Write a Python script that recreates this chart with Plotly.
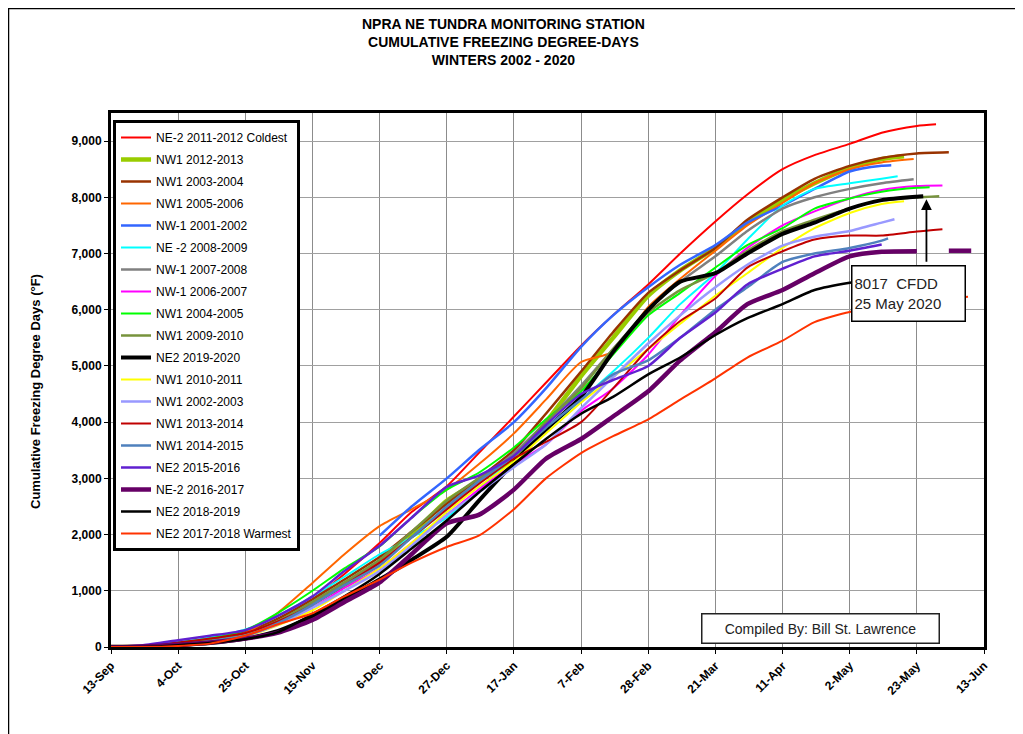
import plotly.graph_objects as go

# ---------------- data (days since 13-Sep) ----------------
DAYS = [0, 10, 21, 31, 42, 52, 63, 73, 84, 94, 105, 115, 126, 136, 147, 157,
        168, 178, 189, 199, 210, 220, 231, 241]

TICK_DAYS = [0, 21, 42, 63, 84, 105, 126, 147, 168, 189, 210, 231, 252, 273]
TICK_LABELS = ["13-Sep", "4-Oct", "25-Oct", "15-Nov", "6-Dec", "27-Dec", "17-Jan",
               "7-Feb", "28-Feb", "21-Mar", "11-Apr", "2-May", "23-May", "13-Jun"]
Y_TICKS = [0, 1000, 2000, 3000, 4000, 5000, 6000, 7000, 8000, 9000]

NAMES = ["NE-2 2011-2012 Coldest", "NW1 2012-2013", "NW1 2003-2004", "NW1 2005-2006",
         "NW-1 2001-2002", "NE -2 2008-2009", "NW-1 2007-2008", "NW-1 2006-2007",
         "NW1 2004-2005", "NW1 2009-2010", "NE2 2019-2020", "NW1 2010-2011",
         "NW1 2002-2003", "NW1 2013-2014", "NW1 2014-2015", "NE2 2015-2016",
         "NE-2 2016-2017", "NE2 2018-2019", "NE2 2017-2018 Warmest"]

COLORS = ["#FF0000", "#99CC00", "#993300", "#FF6600", "#3366FF", "#00FFFF", "#808080",
          "#FF00FF", "#00FF00", "#77933C", "#000000", "#FFFF00", "#9999FF", "#C00000",
          "#4F81BD", "#6020D0", "#660066", "#000000", "#FF3300"]

WIDTHS = [2, 4.5, 2.5, 2, 2.5, 2, 2.5, 2, 2, 2.5, 4, 2, 2.5, 2, 2.5, 2.5, 4.5, 2.5, 2]

v_2011_2012 = [0, 20, 70, 130, 220, 450, 850, 1300, 1850, 2400, 2860, 3450, 4100, 4700,
               5360, 5900, 6450, 7000, 7570, 8050, 8500, 8750, 8950, 9150]
t_2011_2012 = [(252, 9270), (258, 9300)]

v_2012_2013 = [0, 10, 50, 120, 250, 450, 800, 1100, 1500, 2000, 2600, 2950, 3350, 4000,
               4820, 5500, 6250, 6700, 7100, 7550, 7950, 8250, 8520, 8680]
t_2012_2013 = [(248, 8730)]

v_2003_2004 = [0, 10, 60, 130, 260, 500, 850, 1200, 1600, 2050, 2550, 3000, 3500, 4150,
               4900, 5600, 6300, 6700, 7100, 7600, 8000, 8330, 8560, 8700]
t_2003_2004 = [(252, 8780), (262, 8800)]

v_2005_2006 = [0, 10, 60, 130, 250, 600, 1140, 1650, 2150, 2450, 2800, 3250, 3800, 4400,
               5070, 5250, 6050, 6550, 7050, 7500, 7900, 8250, 8500, 8620]
t_2005_2006 = [(251, 8680)]

v_2001_2002 = [None, None, None, None, None, None, None, None, 1980, 2500, 3000, 3500,
               4000, 4600, 5340, 5900, 6400, 6800, 7150, 7550, 7850, 8150, 8460, 8560]
t_2001_2002 = [(244, 8570)]

v_2008_2009 = [0, 20, 80, 170, 310, 550, 900, 1250, 1650, 1950, 2300, 2800, 3400, 3850,
               4400, 4900, 5500, 6100, 6650, 7250, 7850, 8150, 8250, 8330]
t_2008_2009 = [(246, 8375)]

v_2007_2008 = [0, 10, 50, 110, 220, 450, 800, 1150, 1500, 1950, 2450, 2950, 3450, 4000,
               4650, 5300, 6000, 6500, 6950, 7400, 7800, 8000, 8150, 8250]
t_2007_2008 = [(251, 8320)]

v_2006_2007 = [0, 10, 50, 100, 200, 400, 700, 1050, 1400, 1850, 2350, 2800, 3250, 3600,
               4200, 4600, 5200, 5900, 6600, 7100, 7500, 7750, 7980, 8130]
t_2006_2007 = [(252, 8200), (260, 8210)]

v_2004_2005 = [0, 20, 80, 150, 300, 600, 1000, 1400, 1790, 2300, 2800, 3100, 3550, 4050,
               4550, 5200, 5900, 6300, 6750, 7150, 7450, 7800, 7980, 8100]
t_2004_2005 = [(252, 8170), (256, 8180)]

v_2009_2010 = [0, 10, 50, 110, 230, 450, 800, 1150, 1550, 2050, 2600, 3000, 3400, 4000,
               4600, 5300, 5950, 6350, 6650, 7050, 7400, 7600, 7800, 7950]
t_2009_2010 = [(252, 8000), (259, 8020)]

v_2019_2020 = [0, 0, 30, 70, 150, 280, 550, 850, 1200, 1550, 1960, 2600, 3280, 3870,
               4450, 5250, 6000, 6500, 6650, 7000, 7350, 7550, 7800, 7950]
t_2019_2020 = [(252, 8010), (254, 8017)]

v_2010_2011 = [0, 0, 40, 90, 180, 380, 650, 1000, 1400, 1850, 2400, 2850, 3300, 3800,
               4350, 4800, 5300, 5750, 6250, 6650, 7100, 7450, 7720, 7880]
t_2010_2011 = [(248, 7930)]

v_2002_2003 = [0, 10, 50, 100, 200, 400, 700, 1000, 1350, 1800, 2350, 2750, 3200, 3600,
               4250, 4800, 5400, 5900, 6400, 6800, 7140, 7300, 7400, 7550]
t_2002_2003 = [(245, 7610)]

v_2013_2014 = [0, 20, 80, 150, 250, 450, 750, 1100, 1500, 1950, 2450, 2900, 3350, 3650,
               4000, 4600, 5300, 5800, 6200, 6750, 7040, 7250, 7320, 7320]
t_2013_2014 = [(252, 7390), (260, 7430)]

v_2014_2015 = [0, 0, 40, 100, 200, 420, 750, 1100, 1450, 1950, 2500, 2950, 3400, 3900,
               4400, 4850, 5100, 5500, 6000, 6400, 6850, 7000, 7100, 7230]
t_2014_2015 = [(243, 7270)]

v_2015_2016 = [0, 30, 120, 200, 300, 550, 900, 1350, 1800, 2300, 2850, 3050, 3400, 3950,
               4500, 4750, 5000, 5500, 5950, 6450, 6730, 6950, 7050, 7160]
t_2015_2016 = []

v_2016_2017 = [0, 10, 40, 80, 150, 250, 480, 800, 1150, 1650, 2200, 2350, 2800, 3350,
               3700, 4100, 4550, 5100, 5600, 6100, 6350, 6650, 6950, 7030]
t_2016_2017 = [(252, 7040), (256, None), (262, 7050), (269, 7050)]

v_2018_2019 = [0, 0, 30, 70, 140, 260, 580, 900, 1300, 1750, 2250, 2750, 3250, 3700,
               4150, 4450, 4850, 5150, 5550, 5850, 6100, 6350, 6480, 6550]
t_2018_2019 = []

v_2017_2018 = [0, 0, 20, 60, 200, 400, 600, 900, 1200, 1500, 1780, 1980, 2450, 3000,
               3450, 3750, 4050, 4400, 4780, 5150, 5450, 5780, 5960, 6050]
t_2017_2018 = [(252, 6130), (262, 6200), (268, 6230)]

VALUES = [v_2011_2012, v_2012_2013, v_2003_2004, v_2005_2006, v_2001_2002, v_2008_2009,
          v_2007_2008, v_2006_2007, v_2004_2005, v_2009_2010, v_2019_2020, v_2010_2011,
          v_2002_2003, v_2013_2014, v_2014_2015, v_2015_2016, v_2016_2017, v_2018_2019,
          v_2017_2018]
TAILS = [t_2011_2012, t_2012_2013, t_2003_2004, t_2005_2006, t_2001_2002, t_2008_2009,
         t_2007_2008, t_2006_2007, t_2004_2005, t_2009_2010, t_2019_2020, t_2010_2011,
         t_2002_2003, t_2013_2014, t_2014_2015, t_2015_2016, t_2016_2017, t_2018_2019,
         t_2017_2018]

ANNOT_DAY, ANNOT_VALUE = 254, 8017

# ---------------- figure ----------------
FONT = "Arial, Liberation Sans, sans-serif"
fig = go.Figure()

for name, color, width, vals, tail in zip(NAMES, COLORS, WIDTHS, VALUES, TAILS):
    xs = list(DAYS) + [d for d, _ in tail]
    ys = list(vals) + [v for _, v in tail]
    fig.add_trace(go.Scatter(
        x=xs, y=ys, mode="lines", name=name, legendgroup=name,
        line=dict(color=color, width=width, shape="spline", smoothing=0.6),
        connectgaps=False, hoverinfo="name+y"))

# page has an 8px body margin; layout numbers below are in page pixels
OFF = 8
W, H = 1015, 726
PL, PR, PT, PB = 111, 984, 113, 647          # plot area in page pixels
L, R, T, B = PL - OFF, W - (PR - OFF), PT - OFF, H - (PB - OFF)
pw, ph = PR - PL, PB - PT


def px(xp):
    return (xp - PL) / pw


def py(yp):
    return (PB - yp) / ph


fig.update_layout(
    width=W, height=H,
    margin=dict(l=L, r=R, t=T, b=B, autoexpand=False),
    paper_bgcolor="white", plot_bgcolor="white",
    font=dict(family=FONT, color="black", size=12),
    showlegend=True,
    legend=dict(x=px(113), y=py(120), xanchor="left", yanchor="top",
                bgcolor="white", bordercolor="black", borderwidth=3,
                font=dict(family=FONT, size=12, color="black"),
                itemwidth=30, traceorder="grouped", tracegroupgap=3,
                itemclick=False),
    xaxis=dict(range=[0, 273], tickmode="array", tickvals=TICK_DAYS,
               ticktext=["<b>%s</b>" % t for t in TICK_LABELS], tickangle=-45,
               tickfont=dict(family=FONT, size=12, color="black"),
               showgrid=True, gridcolor="#8c8c8c", gridwidth=1,
               showline=True, linecolor="black", linewidth=3, mirror=True,
               ticks="outside", ticklen=4, tickcolor="black", zeroline=False),
    yaxis=dict(range=[0, 9500], tickmode="array", tickvals=Y_TICKS,
               ticktext=["<b>{:,}</b>".format(v) for v in Y_TICKS],
               tickfont=dict(family=FONT, size=12, color="black"),
               showgrid=True, gridcolor="#a0a0a0", gridwidth=1,
               showline=True, linecolor="black", linewidth=3, mirror=True,
               ticks="outside", ticklen=4, tickcolor="black", zeroline=False),
)

annotations = [
    dict(xref="paper", yref="paper", x=px(503), y=py(14), xanchor="center", yanchor="top",
         text="<b>NPRA NE TUNDRA MONITORING STATION</b><br><b>CUMULATIVE FREEZING DEGREE-DAYS</b>"
              "<br><b>WINTERS 2002 - 2020</b>",
         showarrow=False, font=dict(family=FONT, size=14, color="black"), align="center"),
    dict(xref="paper", yref="paper", x=px(35), y=py(392), xanchor="center", yanchor="middle",
         text="<b>Cumulative Freezing Degree Days (°F)</b>", textangle=-90,
         showarrow=False, font=dict(family=FONT, size=13, color="black")),
    dict(xref="paper", yref="paper", x=px(908), y=py(293), xanchor="center", yanchor="middle",
         text="8017  CFDD<br>25 May 2020", align="left", showarrow=False,
         width=108, height=50, bgcolor="white", bordercolor="black", borderwidth=1.5,
         borderpad=2, font=dict(family=FONT, size=15, color="#222")),
    dict(xref="x", yref="y", x=ANNOT_DAY + 1, y=ANNOT_VALUE - 50, text="",
         showarrow=True, arrowhead=2, arrowsize=1.2, arrowwidth=1.8, arrowcolor="black",
         axref="pixel", ayref="pixel", ax=0, ay=64, standoff=0),
    dict(xref="paper", yref="paper", x=px(820), y=py(628), xanchor="center", yanchor="middle",
         text="Compiled By: Bill St. Lawrence", showarrow=False,
         width=232, height=24, bgcolor="white", bordercolor="#222", borderwidth=1.5,
         borderpad=2, font=dict(family=FONT, size=14, color="#222")),
]
fig.update_layout(annotations=annotations)

# outer frame of the page (left and top edges visible)
fig.add_shape(type="rect", xref="paper", yref="paper",
              x0=px(8.5), x1=px(1060), y0=py(780), y1=py(8.5),
              line=dict(color="black", width=1.5), fillcolor="rgba(0,0,0,0)", layer="below")

fig.write_html("out.html")
